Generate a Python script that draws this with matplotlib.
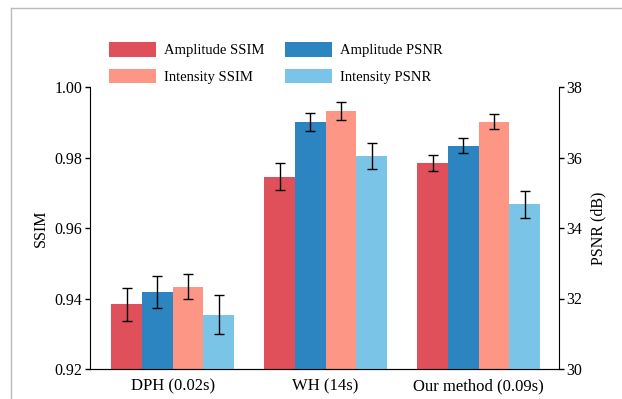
import numpy as np
import matplotlib
matplotlib.use("Agg")
import matplotlib.pyplot as plt
from matplotlib.lines import Line2D

plt.rcParams['font.family'] = ['Liberation Serif', 'DejaVu Serif']

groups = ['DPH (0.02s)', 'WH (14s)', 'Our method (0.09s)']
amp_ssim = [0.9384, 0.9746, 0.9784]
amp_ssim_err = [0.0047, 0.0037, 0.0023]
int_ssim = [0.9434, 0.9931, 0.9902]
int_ssim_err = [0.0035, 0.0026, 0.0022]
amp_psnr = [32.19, 37.0, 36.33]
amp_psnr_err = [0.45, 0.26, 0.21]
int_psnr = [31.54, 36.03, 34.67]
int_psnr_err = [0.55, 0.37, 0.38]

c_red = '#E0505A'
c_blue = '#2C85C0'
c_salmon = '#FE9686'
c_lblue = '#7AC4E7'

fig = plt.figure(figsize=(6.22, 3.99), dpi=100)
ax = fig.add_axes([90/622, 1-369/399, 469/622, 282/399])
ax2 = ax.twinx()

x = np.arange(len(groups))
w = 0.2
ekw = dict(ecolor='black', elinewidth=1.0, capsize=3.5, capthick=1.0)

b1 = ax.bar(x - 1.5*w, amp_ssim, w, yerr=amp_ssim_err, color=c_red, error_kw=ekw)
b3 = ax.bar(x + 0.5*w, int_ssim, w, yerr=int_ssim_err, color=c_salmon, error_kw=ekw)
b2 = ax2.bar(x - 0.5*w, amp_psnr, w, yerr=amp_psnr_err, color=c_blue, error_kw=ekw)
b4 = ax2.bar(x + 1.5*w, int_psnr, w, yerr=int_psnr_err, color=c_lblue, error_kw=ekw)

ax.set_xlim(-0.54, 2.525)
ax.set_ylim(0.92, 1.0)
ax2.set_ylim(30, 38)
ax.set_yticks([0.92, 0.94, 0.96, 0.98, 1.00])
ax.set_yticklabels(['0.92', '0.94', '0.96', '0.98', '1.00'])
ax2.set_yticks([30, 32, 34, 36, 38])
ax.set_xticks(x)
ax.set_xticklabels(groups)

for a in (ax, ax2):
    a.spines['top'].set_visible(False)
    a.tick_params(axis='y', labelsize=11.5, length=3.5, width=1, direction='out', pad=2)
    a.tick_params(axis='x', labelsize=12, length=0, pad=7)
ax.spines['right'].set_visible(False)
ax2.spines['left'].set_visible(False)
ax.spines['bottom'].set_color('#333333')

ax.set_ylabel('SSIM', fontsize=11.5, labelpad=4)
ax2.set_ylabel('PSNR (dB)', fontsize=11.5, labelpad=6)

# column-major fill: col 1 = amplitude/intensity SSIM, col 2 = PSNR
fig.legend(handles=[b1, b3, b2, b4],
           labels=['Amplitude SSIM', 'Intensity SSIM', 'Amplitude PSNR', 'Intensity PSNR'],
           ncol=2, loc='upper left', bbox_to_anchor=(96/622, 1-29/399),
           frameon=False, fontsize=10.5, handlelength=3.2, handleheight=1.15,
           handletextpad=0.55, columnspacing=1.45, labelspacing=0.8)

# grey frame from the original screenshot
fig.add_artist(Line2D([11/622, 1], [1-8/399, 1-8/399], color='#BBBBBB', lw=1))
fig.add_artist(Line2D([11/622, 11/622], [0, 1-8/399], color='#BBBBBB', lw=1))

fig.savefig('out.png', dpi=100)
